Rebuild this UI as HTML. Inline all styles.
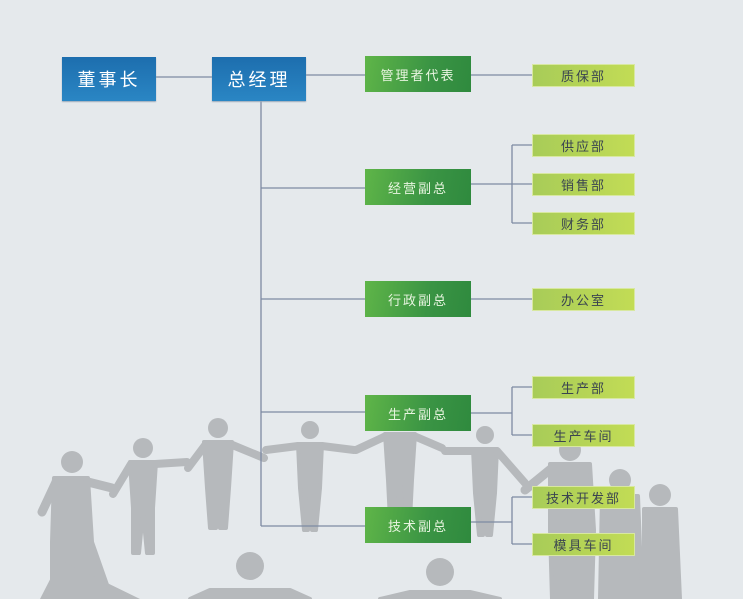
<!DOCTYPE html>
<html><head><meta charset="utf-8"><style>
html,body{margin:0;padding:0}
body{width:743px;height:599px;background:#e5e9ec;position:relative;overflow:hidden;font-family:"Liberation Sans","Noto Sans CJK SC",sans-serif}
svg{position:absolute;left:0;top:0}
.b{position:absolute;display:flex;align-items:center;justify-content:center;box-sizing:border-box}
.blue{background:linear-gradient(#1d6eae,#2a86c4);color:#fff;font-size:18px;letter-spacing:3px;box-shadow:0 1px 1px #9ab}
.g{background:linear-gradient(100deg,#5fb548,#3a9444 60%,#2f8a3e);color:#e8f5e0;font-size:13px;letter-spacing:2px}
.l{background:linear-gradient(90deg,#a8cc58,#c2dc55);color:#3a4450;font-size:13px;letter-spacing:2px;border:1px solid #d8e8a0}
</style></head><body>
<svg width="743" height="599">
<g fill="#b6b9bc" stroke="#b6b9bc" stroke-linecap="round" stroke-linejoin="round">
<!-- standing figures -->
<g transform="translate(218,418)"><circle cx="0" cy="10" r="10" stroke="none"/><path d="M-14 24 L14 24 L11 70 L8 110 L2 110 L0 72 L-2 110 L-8 110 L-11 70Z" stroke-width="4"/><path d="M-12 26 L-30 50 M12 26 L46 40" fill="none" stroke-width="8"/></g>
<g transform="translate(310,420)"><circle cx="0" cy="10" r="9" stroke="none"/><path d="M-12 24 L12 24 L10 68 L6 110 L2 110 L0 72 L-2 110 L-6 110 L-10 68Z" stroke-width="4"/><path d="M-12 26 L-44 30 M12 26 L44 30" fill="none" stroke-width="8"/></g>
<g transform="translate(400,410)"><circle cx="0" cy="10" r="10" stroke="none"/><path d="M-15 24 L15 24 L12 70 L10 110 L3 110 L0 74 L-3 110 L-10 110 L-12 70Z" stroke-width="4"/><path d="M-14 26 L-44 40 M14 26 L42 38" fill="none" stroke-width="8"/></g>
<g transform="translate(485,425)"><circle cx="0" cy="10" r="9" stroke="none"/><path d="M-12 24 L12 24 L10 68 L6 110 L2 110 L0 72 L-2 110 L-6 110 L-10 68Z" stroke-width="4"/><path d="M-12 26 L-40 26 M12 26 L40 58" fill="none" stroke-width="8"/></g>
<g transform="translate(143,438)"><circle cx="0" cy="10" r="10" stroke="none"/><path d="M-13 24 L13 24 L10 70 L10 115 L4 115 L0 74 L-4 115 L-10 115 L-10 70Z" stroke-width="4"/><path d="M-12 26 L-30 56 M12 26 L44 24" fill="none" stroke-width="8"/></g>
<g transform="translate(72,452)"><circle cx="0" cy="10" r="11" stroke="none"/><path d="M-18 26 L16 26 L20 90 L40 147 L-20 147 L-20 90Z" stroke-width="4"/><path d="M-16 30 L-30 60 M16 30 L40 36" fill="none" stroke-width="9"/></g>
<g transform="translate(570,440)"><circle cx="0" cy="10" r="11" stroke="none"/><path d="M-20 24 L20 24 L24 90 L22 159 L-18 159 L-20 90Z" stroke-width="4"/><path d="M-18 28 L-45 50" fill="none" stroke-width="9"/></g>
<g transform="translate(620,468)"><circle cx="0" cy="12" r="11" stroke="none"/><path d="M-18 28 L18 28 L22 131 L-20 131Z" stroke-width="4"/></g>
<g transform="translate(660,485)"><circle cx="0" cy="10" r="11" stroke="none"/><path d="M-16 24 L16 24 L20 114 L-20 114 L-16 60Z" stroke-width="4"/></g>
<g transform="translate(250,550)"><circle cx="0" cy="16" r="14" stroke="none"/><path d="M-40 40 L40 40 L60 49 L-60 49Z" stroke-width="4"/></g>
<g transform="translate(440,552)"><circle cx="0" cy="20" r="14" stroke="none"/><path d="M-30 40 L30 40 L60 47 L-60 47Z" stroke-width="4"/></g>
<path d="M60 560 L140 599 L40 599Z" stroke="none"/>
</g>
<g stroke="#7d8aa3" stroke-width="1.3" fill="none">
<path d="M156 77H212M306 75H365M471 75H532"/>
<path d="M261 101V526M261 188H365M261 299H365M261 412H365M261 526H365"/>
<path d="M471 184H512M512 145V223M512 145H532M512 184H532M512 223H532"/>
<path d="M471 299H532"/>
<path d="M471 413H512M512 387V435M512 387H532M512 435H532"/>
<path d="M471 522H512M512 497V544M512 497H532M512 544H532"/>
</g>
</svg>
<div class="b blue" style="left:62px;top:57px;width:94px;height:44px">董事长</div>
<div class="b blue" style="left:212px;top:57px;width:94px;height:44px">总经理</div>
<div class="b g" style="left:365px;top:56px;width:106px;height:36px">管理者代表</div>
<div class="b g" style="left:365px;top:169px;width:106px;height:36px">经营副总</div>
<div class="b g" style="left:365px;top:281px;width:106px;height:36px">行政副总</div>
<div class="b g" style="left:365px;top:395px;width:106px;height:36px">生产副总</div>
<div class="b g" style="left:365px;top:507px;width:106px;height:36px">技术副总</div>
<div class="b l" style="left:532px;top:64px;width:103px;height:23px">质保部</div>
<div class="b l" style="left:532px;top:134px;width:103px;height:23px">供应部</div>
<div class="b l" style="left:532px;top:173px;width:103px;height:23px">销售部</div>
<div class="b l" style="left:532px;top:212px;width:103px;height:23px">财务部</div>
<div class="b l" style="left:532px;top:288px;width:103px;height:23px">办公室</div>
<div class="b l" style="left:532px;top:376px;width:103px;height:23px">生产部</div>
<div class="b l" style="left:532px;top:424px;width:103px;height:23px">生产车间</div>
<div class="b l" style="left:532px;top:486px;width:103px;height:23px">技术开发部</div>
<div class="b l" style="left:532px;top:533px;width:103px;height:23px">模具车间</div>
</body></html>
